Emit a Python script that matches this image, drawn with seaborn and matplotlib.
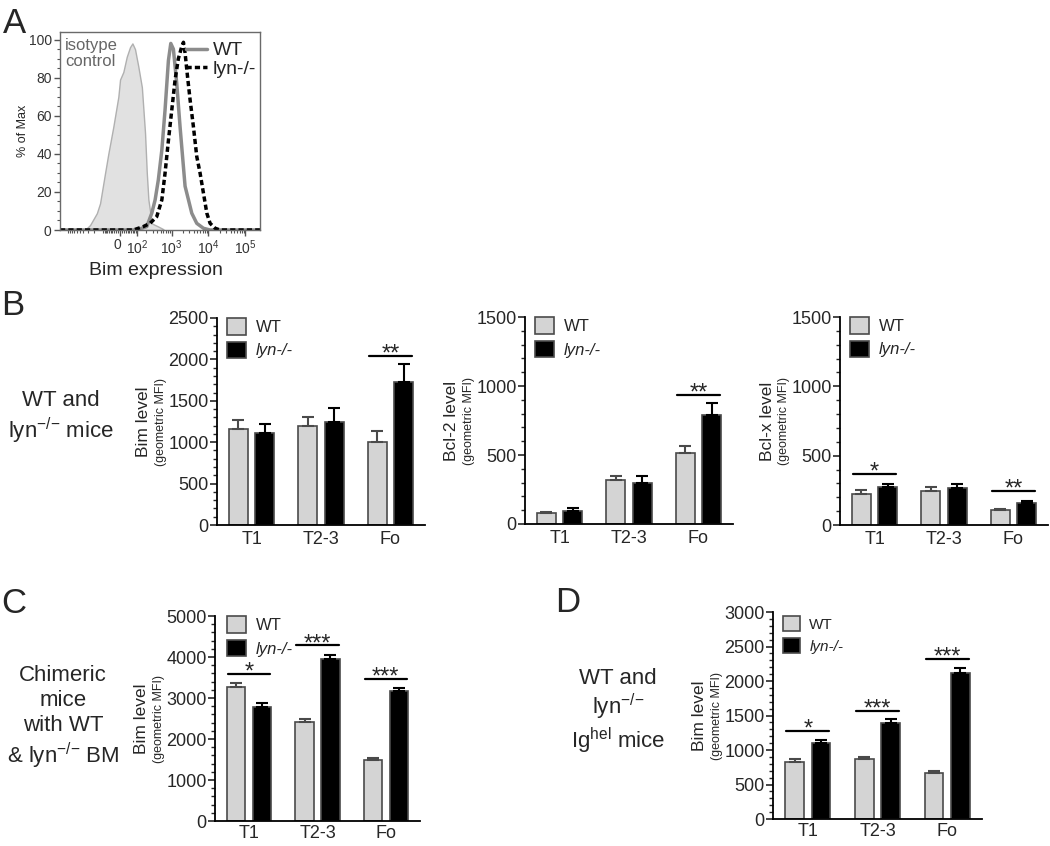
import numpy as np
import pandas as pd
import matplotlib
matplotlib.use("Agg")
import matplotlib.pyplot as plt
import seaborn as sns
from matplotlib.ticker import AutoMinorLocator

# Panel A histograms (x = Bim fluorescence, y = % of max)
iso_x = [-353, -254, -161, -128, -86, -64, -35, -8.5, 0, 16.6, 34.5, 53, 68, 86, 112,
         146, 182, 205, 228, 284, 353, 433, 598]
iso_y = [0, 2.6, 8.8, 14, 30, 40, 54, 70, 79, 83, 91, 96, 98, 95, 86,
         75, 51, 30, 16, 3.5, 2.6, 1.8, 0.4]
wt_x = [-1700, 0, 100, 205, 284, 353, 433, 541, 662, 818, 950, 1118, 1378, 1700, 2016,
        2320, 2856, 3528, 4816, 7320, 11080, 250000]
wt_y = [0, 0, 0, 1.8, 8.8, 15.8, 26.3, 42, 63, 89, 98, 95, 77, 54, 37,
        23, 16, 8.8, 3.5, 0.9, 0, 0]
lyn_x = [-1700, 0, 74, 162, 254, 391, 541, 662, 818, 1010, 1245, 1525, 1896, 2098, 2320,
         2690, 3175, 3900, 4816, 5937, 7320, 9040, 11080, 15200, 20700, 250000]
lyn_y = [0, 0, 0, 1.8, 3.5, 7, 15.8, 29.8, 47, 63, 79, 90, 96.5, 98.6, 93,
         81, 68.4, 54.4, 38.6, 29.8, 19.3, 8.8, 3.5, 0.9, 0, 0]

groups = ["T1", "T2-3", "Fo"]
genotypes = ["WT", "lyn-/-"]

# Panel B
bim_wt = [1160, 1200, 1000]
bim_wt_err = [110, 110, 130]
bim_lyn = [1110, 1250, 1730]
bim_lyn_err = [110, 160, 210]
bcl2_wt = [78, 320, 518]
bcl2_wt_err = [12, 29, 48]
bcl2_lyn = [91, 296, 790]
bcl2_lyn_err = [22, 53, 84]
bclx_wt = [223, 247, 108]
bclx_wt_err = [29, 29, 10]
bclx_lyn = [271, 264, 161]
bclx_lyn_err = [24, 31, 14]
# Panel C
chim_wt = [3271, 2415, 1494]
chim_wt_err = [97, 65, 49]
chim_lyn = [2787, 3950, 3166]
chim_lyn_err = [97, 105, 81]
# Panel D
hel_wt = [832, 876, 672]
hel_wt_err = [39, 29, 29]
hel_lyn = [1098, 1398, 2114]
hel_lyn_err = [49, 53, 73]

# significance: (group index, height of line, stars)
sig_bim = [(2, 2040, "**")]
sig_bcl2 = [(2, 934, "**")]
sig_bclx = [(0, 367, "*"), (2, 245, "**")]
sig_chim = [(0, 3594, "*"), (1, 4281, "***"), (2, 3473, "***")]
sig_hel = [(0, 1277, "*"), (1, 1572, "***"), (2, 2317, "***")]

sns.set_style("ticks")
plt.rcParams["font.family"] = ["Liberation Sans", "DejaVu Sans"]
plt.rcParams["mathtext.fontset"] = "custom"
plt.rcParams["mathtext.rm"] = "Liberation Sans"
plt.rcParams["mathtext.it"] = "Liberation Sans:italic"

W, H = 1050, 846
fig = plt.figure(figsize=(W / 100, H / 100), dpi=100)


def add_ax(x0, y0, x1, y1):
    return fig.add_axes([x0 / W, 1 - y1 / H, (x1 - x0) / W, (y1 - y0) / H])


def pt(px):
    return px * 0.72


def bar_panel(ax, wt, wt_err, lyn, lyn_err, ymax, major, ylab, sig,
              leg_size=12, leg_anchor=(0.05, 1.0), xpad=4):
    df = pd.DataFrame({
        "group": groups * 2,
        "genotype": [genotypes[0]] * 3 + [genotypes[1]] * 3,
        "value": wt + lyn,
    })
    sns.barplot(data=df, x="group", y="value", hue="genotype", order=groups,
                hue_order=genotypes, palette={"WT": "#d4d4d4", "lyn-/-": "black"},
                width=0.76, gap=0.29, errorbar=None, edgecolor="#4a4a4a",
                linewidth=1.2, ax=ax)
    for cont, err, col in zip(ax.containers, [wt_err, lyn_err], ["#4a4a4a", "black"]):
        xs = [p.get_x() + p.get_width() / 2 for p in cont]
        tops = [p.get_height() for p in cont]
        ax.errorbar(xs, tops, yerr=[np.zeros(len(err)), err], fmt="none",
                    ecolor=col, elinewidth=1.5, capsize=4.5, capthick=1.5)
    for gi, yv, stars in sig:
        ax.plot([gi - 0.31, gi + 0.31], [yv, yv], color="black", lw=1.6)
        ax.annotate(stars, (gi, yv), xytext=(0, -3.5), textcoords="offset points",
                    ha="center", va="baseline", fontsize=17)
    ax.set_xlim(-0.5, 2.5)
    ax.set_ylim(0, ymax)
    ax.set_yticks(np.arange(0, ymax + 1, major))
    ax.yaxis.set_minor_locator(AutoMinorLocator(5))
    ax.set_xlabel("")
    ax.set_ylabel("")
    sns.despine(ax=ax)
    for s in ("left", "bottom"):
        ax.spines[s].set_linewidth(1.3)
        ax.spines[s].set_color("black")
    ax.tick_params(axis="y", which="major", length=5, width=1.2, labelsize=13, pad=1)
    ax.tick_params(axis="y", which="minor", length=3, width=1)
    ax.tick_params(axis="x", length=0, labelsize=13, pad=xpad)
    ax.annotate(ylab, xy=(0, 0.5), xycoords="axes fraction", xytext=(pt(-73), 0),
                textcoords="offset points", rotation=90, ha="center", va="center",
                fontsize=12.5)
    ax.annotate("(geometric MFI)", xy=(0, 0.5), xycoords="axes fraction",
                xytext=(pt(-56), 0), textcoords="offset points", rotation=90,
                ha="center", va="center", fontsize=9)
    sns.move_legend(ax, "upper left", bbox_to_anchor=leg_anchor, frameon=False,
                    title=None, fontsize=leg_size, handlelength=1.1, handleheight=1.15,
                    labelspacing=0.4, handletextpad=0.6, borderaxespad=0, borderpad=0)
    ax.get_legend().get_texts()[1].set_style("italic")


# ---------------- Panel A
axA = add_ax(60, 32, 260, 230)
axA.set_xscale("asinh", linear_width=80)
axA.fill_between(iso_x, iso_y, color="#e1e1e1", edgecolor="#b0b0b0", lw=1, zorder=1)
sns.lineplot(x=wt_x, y=wt_y, color="#8c8c8c", lw=2.5, sort=False, estimator=None,
             label="WT", ax=axA)
sns.lineplot(x=lyn_x, y=lyn_y, color="black", lw=2.5, sort=False, estimator=None,
             label="lyn-/-", ax=axA)
axA.lines[-1].set_linestyle((0, (1.5, 0.9)))
axA.set_xlim(-1700, 2.5e5)
axA.set_ylim(0, 104)
majors = [0, 100, 1e3, 1e4, 1e5]
minors = [s * m * 10 ** k for s in (-1, 1) for k in (1, 2, 3, 4) for m in range(1, 10)]
minors = [v for v in minors if -1700 <= v <= 2.5e5 and v not in majors]
axA.set_xticks(majors, ["0 ", "$10^2$", "$10^3$", "$10^4$", "$10^5$"])
axA.set_xticks(minors, minor=True)
axA.set_yticks(np.arange(0, 101, 20))
axA.yaxis.set_minor_locator(AutoMinorLocator(4))
axA.tick_params(which="major", length=4, width=1, labelsize=10, labelcolor="#333333",
                color="#555555", pad=2)
axA.tick_params(which="minor", length=2.5, width=0.8, color="#555555")
for s in axA.spines.values():
    s.set_color("#6a6a6a")
    s.set_linewidth(1)
axA.set_xlabel("")
axA.set_ylabel("")
axA.annotate("% of Max", xy=(0, 0.5), xycoords="axes fraction", xytext=(pt(-37), 0),
             textcoords="offset points", rotation=90, ha="center", va="center",
             fontsize=9)
axA.annotate("Bim expression", xy=(0.48, 0), xycoords="axes fraction",
             xytext=(0, pt(-40)), textcoords="offset points", ha="center",
             va="center", fontsize=14)
axA.text(0.025, 0.97, "isotype\ncontrol", transform=axA.transAxes, ha="left", va="top",
         fontsize=12, color="#666666", linespacing=1.05)
axA.legend(loc="upper right", bbox_to_anchor=(1.03, 1.0), frameon=False, fontsize=14,
           handlelength=1.1, handletextpad=0.3, labelspacing=0.05, borderaxespad=0.1)

# ---------------- Panel B
axB1 = add_ax(217, 318, 425, 525)
bar_panel(axB1, bim_wt, bim_wt_err, bim_lyn, bim_lyn_err, 2500, 500, "Bim level", sig_bim)
axB2 = add_ax(525, 317, 733, 524)
bar_panel(axB2, bcl2_wt, bcl2_wt_err, bcl2_lyn, bcl2_lyn_err, 1500, 500, "Bcl-2 level",
          sig_bcl2)
axB3 = add_ax(840, 317, 1048, 525)
bar_panel(axB3, bclx_wt, bclx_wt_err, bclx_lyn, bclx_lyn_err, 1500, 500, "Bcl-x level",
          sig_bclx)

# ---------------- Panel C
axC = add_ax(215, 616, 420, 821)
bar_panel(axC, chim_wt, chim_wt_err, chim_lyn, chim_lyn_err, 5000, 1000, "Bim level",
          sig_chim, leg_anchor=(0.06, 1.0), xpad=3)

# ---------------- Panel D
axD = add_ax(773, 612, 982, 819)
bar_panel(axD, hel_wt, hel_wt_err, hel_lyn, hel_lyn_err, 3000, 500, "Bim level",
          sig_hel, leg_size=11, leg_anchor=(0.05, 0.98), xpad=3)

# side labels and panel letters
sup = r"$^{\mathrm{{-}/{-}}}$"
fig.text(61 / W, 1 - 418 / H, "WT and\nlyn" + sup + " mice", ha="center", va="center",
         fontsize=16, linespacing=1.2)
fig.text(63 / W, 1 - 718 / H, "Chimeric\nmice\nwith WT\n& lyn" + sup + " BM",
         ha="center", va="center", fontsize=16, linespacing=1.25)
fig.text(618 / W, 1 - 712 / H, "WT and\nlyn" + sup + "\nIg$^{\\mathrm{hel}}$ mice",
         ha="center", va="center", fontsize=16, linespacing=1.15)
for letter, x, y in [("A", 3, 33), ("B", 1, 315), ("C", 1, 613), ("D", 555, 612)]:
    fig.text(x / W, 1 - y / H, letter, ha="left", va="baseline", fontsize=25)

fig.savefig("out.png", dpi=100)
